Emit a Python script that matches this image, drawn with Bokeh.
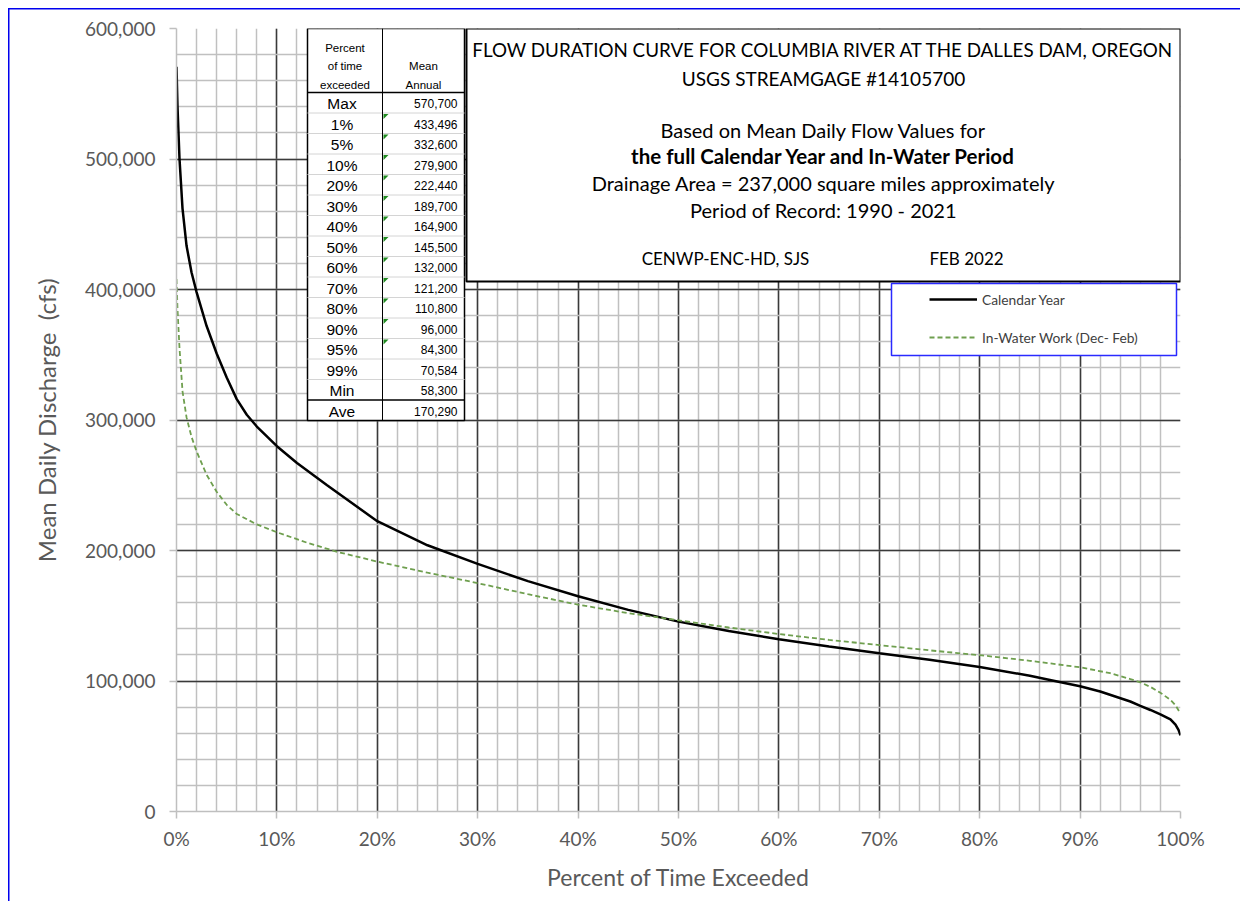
from bokeh.plotting import figure
from bokeh.models import (Range1d, FixedTicker, NumeralTickFormatter, PrintfTickFormatter,
                          Legend, LegendItem)
from bokeh.core.properties import value
from bokeh.embed import file_html
from bokeh.resources import INLINE

# ---------------- data ----------------
pct_cal = [0, 0.1, 0.3, 0.6, 1, 1.5, 2, 3, 4, 5, 6, 7, 8, 10, 12, 15, 20, 25, 30, 35, 40,
           45, 50, 55, 60, 65, 70, 75, 80, 85, 87, 90, 92, 95, 96, 97, 98, 99, 99.5, 99.8, 100]
flow_cal = [570700, 540000, 500000, 462000, 433496, 413000, 398000, 372000, 351000, 332600,
            316000, 304000, 295000, 279900, 267000, 250000, 222440, 204000, 189700, 176500,
            164900, 154500, 145500, 138300, 132000, 126400, 121200, 116200, 110800, 104000,
            100800, 96000, 92000, 84300, 81000, 77800, 74500, 70584, 66500, 62500, 58300]

pct_iww = [0, 0.1, 0.3, 0.6, 1, 1.5, 2, 3, 4, 5, 6, 8, 10, 13, 16, 20, 25, 30, 35, 40, 45,
           50, 55, 60, 65, 70, 75, 80, 85, 90, 93, 95, 96, 97, 98, 99, 99.5, 100]
flow_iww = [408000, 385000, 355000, 322000, 302000, 287000, 276000, 258000, 245000, 235000,
            228000, 220000, 214000, 206000, 199000, 191500, 183000, 175000, 166500, 158500,
            152000, 146500, 141000, 136000, 131500, 127500, 123500, 119800, 115500, 110500,
            106000, 101500, 99000, 95500, 91000, 85500, 81500, 75000]

table_labels = ["Max", "1%", "5%", "10%", "20%", "30%", "40%", "50%", "60%", "70%",
                "80%", "90%", "95%", "99%", "Min"]
table_values = [570700, 433496, 332600, 279900, 222440, 189700, 164900, 145500, 132000,
                121200, 110800, 96000, 84300, 70584, 58300]
table_average = 170290

x_ticks = list(range(0, 101, 10))
y_ticks = list(range(0, 600001, 100000))

info_lines = ["FLOW DURATION CURVE FOR COLUMBIA RIVER AT THE DALLES DAM, OREGON",
              "USGS STREAMGAGE #14105700",
              "Based on Mean Daily Flow Values for",
              "the full Calendar Year and In-Water Period",
              "Drainage Area = 237,000 square miles approximately",
              "Period of Record: 1990 - 2021"]
author = "CENWP-ENC-HD, SJS"
date = "FEB 2022"
series_names = ["Calendar Year", "In-Water Work (Dec- Feb)"]

# ---------------- figure ----------------
W, H = 1240, 901
p = figure(width=W, height=H, output_backend="svg", toolbar_location=None,
           x_range=Range1d(0, 100), y_range=Range1d(0, 600000),
           min_border_left=176, min_border_right=60, min_border_top=28, min_border_bottom=90)
p.outline_line_color = None
p.background_fill_color = "white"
p.border_fill_color = None
# outer blue chart-area frame (left and top edges), drawn as the element's background
p.styles = {
    "background-color": "white",
    "background-image": "linear-gradient(#0000ee, #0000ee), linear-gradient(#0000ee, #0000ee)",
    "background-size": "1.5px 100%, 100% 1.5px",
    "background-position": "8px 8px, 8px 8px",
    "background-repeat": "no-repeat",
}

# picture pixel -> data helpers (frame: x 176..1180, y 28..811)
def dx(px):
    return (px - 176) / (1180 - 176) * 100

def dy(py):
    return (811 - py) / (811 - 28) * 600000

FONT = value("Lato")
AX_COL = "#595959"

# grids
p.xgrid.ticker = FixedTicker(ticks=x_ticks[1:], minor_ticks=list(range(0, 101, 2)))
p.ygrid.ticker = FixedTicker(ticks=y_ticks[1:], minor_ticks=list(range(0, 600001, 20000)))
for g in (p.xgrid, p.ygrid):
    g.grid_line_color = "#3a3a3a"
    g.grid_line_width = 1.5
    g.minor_grid_line_color = "#c0c0c0"
    g.minor_grid_line_width = 1.5

# axes
p.xaxis.ticker = FixedTicker(ticks=x_ticks)
p.xaxis.formatter = PrintfTickFormatter(format="%d%%")
p.yaxis.ticker = FixedTicker(ticks=y_ticks)
p.yaxis.formatter = NumeralTickFormatter(format="0,0")
for ax in (p.xaxis, p.yaxis):
    ax.major_tick_out = 7
    ax.major_tick_in = 0
    ax.minor_tick_out = 0
    ax.minor_tick_in = 0
    ax.major_tick_line_color = "#bfbfbf"
    ax.major_tick_line_width = 1.5
    ax.axis_line_color = "#bfbfbf"
    ax.axis_line_width = 1.5
    ax.major_label_text_font = "Lato"
    ax.major_label_text_font_size = "19px"
    ax.major_label_text_color = AX_COL
    ax.axis_label_text_font = "Lato"
    ax.axis_label_text_font_style = "normal"
    ax.axis_label_text_color = AX_COL
p.xaxis.axis_label = "Percent of Time Exceeded"
p.yaxis.axis_label = "Mean Daily Discharge\u00a0 (cfs)"
p.xaxis.axis_label_text_font_size = "23px"
p.yaxis.axis_label_text_font_size = "24px"
p.xaxis.major_label_standoff = 8
p.xaxis.axis_label_standoff = 10
p.yaxis.major_label_standoff = 14
p.yaxis.axis_label_standoff = 21

# ---------------- info text box ----------------
p.quad(left=dx(466), right=dx(1180), top=dy(28), bottom=dy(281),
       fill_color="white", line_color="black", line_width=2)
cx = dx(823)
ys = [49, 78, 129, 155, 182, 209]
sizes = ["18.8px", "19px", "20px", "20.5px", "20px", "20px"]
for i, (t, py) in enumerate(zip(info_lines, ys)):
    p.text(x=[cx], y=[dy(py)], text=[t], text_font=FONT, text_font_size=value(sizes[i]),
           text_align="center", text_baseline="middle", text_color="black",
           text_font_style="bold" if i == 3 else "normal")
p.text(x=[dx(725)], y=[dy(258)], text=[author], text_font=FONT, text_font_size=value("17px"),
       text_align="center", text_baseline="middle", text_color="black")
p.text(x=[dx(966)], y=[dy(258)], text=[date], text_font=FONT, text_font_size=value("17px"),
       text_align="center", text_baseline="middle", text_color="black")

# ---------------- statistics table ----------------
TL, TM, TR = 307, 382, 464
TT, TH, RH = 28, 92, 20.5
TB = TH + RH * (len(table_labels) + 1)
p.quad(left=dx(TL), right=dx(TR), top=dy(TT), bottom=dy(TB),
       fill_color="white", line_color="black", line_width=1.5)
row_lines = [TH + RH * k for k in range(1, len(table_labels))]
p.segment(x0=[dx(TL)] * len(row_lines), x1=[dx(TR)] * len(row_lines),
          y0=[dy(r) for r in row_lines], y1=[dy(r) for r in row_lines],
          line_color="#d4d4d4", line_width=1)
sep = [TH, TH + RH * len(table_labels)]
p.segment(x0=[dx(TL)] * 2, x1=[dx(TR)] * 2, y0=[dy(r) for r in sep], y1=[dy(r) for r in sep],
          line_color="black", line_width=1.5)
p.segment(x0=[dx(TM)], x1=[dx(TM)], y0=[dy(TT)], y1=[dy(TB)], line_color="black", line_width=1)

tfont = value("Liberation Sans")
p.text(x=[dx((TL + TM) / 2)] * 3, y=[dy(47), dy(65), dy(84)],
       text=["Percent", "of time", "exceeded"], text_font=tfont, text_font_size=value("11.5px"),
       text_align="center", text_baseline="middle", text_color="black")
p.text(x=[dx((TM + TR) / 2)] * 2, y=[dy(65), dy(84)], text=["Mean", "Annual"],
       text_font=tfont, text_font_size=value("11.5px"),
       text_align="center", text_baseline="middle", text_color="black")
labels_all = table_labels + ["Ave"]
values_all = table_values + [table_average]
row_y = [dy(TH + RH * k + RH / 2 + 1) for k in range(len(labels_all))]
p.text(x=[dx((TL + TM) / 2 - 3)] * len(labels_all), y=row_y, text=labels_all,
       text_font=tfont, text_font_size=value("15.5px"),
       text_align="center", text_baseline="middle", text_color="black")
p.text(x=[dx(TR - 7)] * len(values_all), y=row_y, text=[f"{v:,}" for v in values_all],
       text_font=tfont, text_font_size=value("12px"),
       text_align="right", text_baseline="middle", text_color="black")
tri_x, tri_y = [], []
for k in range(1, 13):
    top = TH + RH * k + 1
    tri_x.append([dx(TM + 1), dx(TM + 6), dx(TM + 1)])
    tri_y.append([dy(top), dy(top), dy(top + 5)])
p.patches(xs=tri_x, ys=tri_y, fill_color="#1f8a1f", line_color=None)

# ---------------- legend box ----------------
p.quad(left=dx(891), right=dx(1176), top=dy(283), bottom=dy(355),
       fill_color="white", line_color="#2a2aff", line_width=1.5)

# ---------------- curves ----------------
r_cal = p.line(pct_cal, flow_cal, line_color="black", line_width=2.5)
r_iww = p.line(pct_iww, flow_iww, line_color="#6f9f4f", line_width=1.8, line_dash="5 3")

legend = Legend(items=[LegendItem(label=series_names[0], renderers=[r_cal]),
                       LegendItem(label=series_names[1], renderers=[r_iww])],
                location=(753, 464), padding=7, spacing=18, glyph_width=48, glyph_height=20,
                label_standoff=5, label_text_font="Lato", label_text_font_size="13.8px",
                label_text_color="#404040", border_line_color=None,
                background_fill_alpha=0, margin=0)
p.add_layout(legend, "center")

open("out.html", "w").write(file_html(p, INLINE))
